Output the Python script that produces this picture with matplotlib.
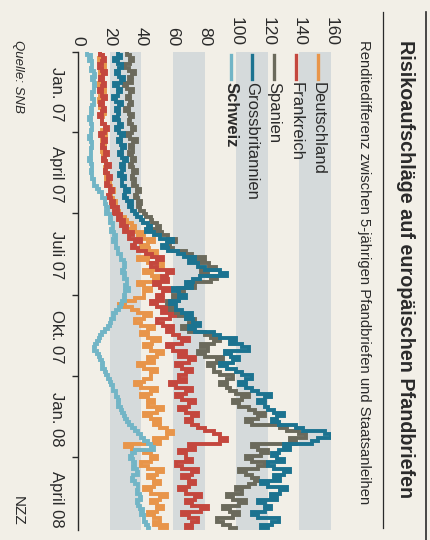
import numpy as np
import pandas as pd
import matplotlib
matplotlib.use('Agg')
import matplotlib.pyplot as plt
import matplotlib.transforms as mtransforms
import matplotlib.dates as mdates

plt.rcParams['font.family'] = ['Liberation Sans Narrow', 'Liberation Sans', 'DejaVu Sans']

dates = pd.date_range('2007-01-01', periods=154, freq='84h')

schweiz = [6, 8, 7, 9, 9, 8, 10, 11, 9, 10, 11, 10, 10, 9, 9, 10, 10, 9, 8, 9, 8, 7,
           8, 9, 9, 8, 8, 7, 8, 9, 9, 8, 8, 8, 7, 8, 9, 9, 8, 9, 9, 10,
           10, 12, 13, 15, 15, 17, 17, 18, 19, 18, 20, 21, 20, 22, 22, 21, 23, 24, 22, 24, 24, 25,
           25, 27, 27, 29, 30, 29, 28, 30, 29, 31, 31, 30, 32, 30, 29, 30, 28, 27,
           26, 24, 22, 23, 21, 20, 19, 17, 15, 14, 13, 12, 11, 10, 12, 13, 14, 15, 16, 15, 17, 18,
           19, 20, 21, 22, 22, 24, 24, 25, 26, 25, 27, 28, 29, 30, 31, 32, 34, 36, 38, 40, 42, 44,
           46, 48, 36, 34,
           33, 35, 36, 35, 37, 38, 35, 34, 36, 38, 38, 37, 39, 40, 37, 38, 39, 41, 40, 42,
           42, 43, 44, 45]

deutschland = [14, 16, 13, 15, 17, 15, 14, 16, 16, 14, 13, 15, 17, 15, 14, 13, 16, 14, 15, 17, 16, 15,
               15, 17, 17, 15, 18, 16, 15, 17, 17, 15, 18, 16, 16, 18, 19, 17, 17, 19, 18, 20,
               19, 21, 23, 21, 20, 22, 24, 22, 23, 26, 27, 30, 31, 34, 36, 33, 42, 38, 48, 44, 40, 45,
               50, 46, 38, 44, 54, 50, 42, 47, 52, 48, 38, 42, 46, 42,
               42, 36, 30, 26, 34, 38, 46, 42, 36, 40, 48, 44,
               40, 44, 52, 47, 42, 46, 54, 50, 44, 48, 38, 42, 50, 46,
               46, 42, 36, 40, 50, 46, 40, 44, 48, 44, 54, 50, 42, 46, 52, 48,
               52, 56, 60, 56, 48, 52, 30, 34, 42, 46,
               50, 46, 40, 44, 54, 50, 44, 48, 52, 48, 42, 46, 56, 52, 46, 50, 54, 50, 44, 48,
               52, 48, 56, 52]

frankreich = [14, 16, 17, 15, 13, 15, 18, 16, 14, 16, 17, 15, 13, 15, 18, 16, 14, 16, 17, 15, 13, 15,
              15, 17, 19, 17, 14, 16, 18, 16, 15, 17, 19, 17, 16, 18, 20, 18, 17, 19, 21, 19,
              18, 20, 22, 20, 19, 21, 23, 21, 25, 23, 27, 25, 29, 27, 31, 29, 35, 32, 40, 36, 34, 38,
              43, 47, 54, 50, 46, 50, 60, 56, 53, 57, 48, 52, 58, 54,
              50, 54, 46, 50, 57, 53, 62, 58, 50, 54, 60, 56,
              60, 64, 70, 66, 56, 60, 68, 64, 74, 70, 62, 66, 72, 68,
              64, 68, 58, 62, 72, 68, 62, 66, 74, 70, 64, 68, 76, 72, 68, 72,
              76, 80, 86, 90, 94, 90, 70, 74, 64, 68,
              68, 72, 62, 66, 76, 72, 66, 70, 74, 70, 64, 68, 78, 74, 68, 72, 82, 78, 66, 70,
              76, 72, 68, 72]

spanien = [31, 33, 35, 33, 30, 32, 36, 34, 32, 34, 29, 31, 35, 33, 31, 33, 34, 32, 30, 32, 35, 33,
           32, 34, 36, 34, 31, 33, 37, 35, 33, 35, 32, 34, 36, 34, 33, 35, 37, 35, 34, 36,
           35, 37, 39, 37, 36, 38, 40, 38, 39, 42, 43, 46, 47, 50, 52, 48, 53, 57, 62, 58, 56, 60,
           68, 72, 80, 76, 83, 87, 78, 82, 88, 84, 70, 74, 63, 67, 60, 64, 56, 60,
           58, 62, 64, 68, 74, 70, 66, 70, 80, 84, 90, 86, 78, 82, 76, 80, 92, 88, 82, 86,
           86, 90, 98, 94, 90, 94, 96, 100, 108, 104, 98, 102, 108, 112, 118, 114, 106, 110,
           128, 132, 140, 144, 134, 138, 110, 114, 120, 116,
           106, 110, 118, 114, 102, 106, 110, 114, 112, 108, 100, 104, 94, 98, 106, 102, 92, 96, 102, 98,
           88, 92, 96, 100]

grossbritannien = [25, 27, 23, 25, 28, 26, 24, 26, 29, 27, 23, 25, 27, 25, 22, 24, 28, 26, 24, 26, 25, 23,
                   26, 28, 24, 26, 29, 27, 25, 27, 30, 28, 26, 28, 31, 29, 27, 29, 28, 26, 30, 28,
                   28, 30, 32, 30, 29, 31, 34, 32, 34, 36, 37, 40, 41, 44, 46, 43, 48, 52, 60, 56, 53, 57,
                   63, 67, 74, 70, 76, 80, 90, 94, 77, 73, 68, 72, 60, 64, 68, 64, 58, 62,
                   62, 66, 72, 68, 73, 77, 70, 74, 86, 90, 100, 96, 104, 108, 93, 97, 102, 98, 90, 94,
                   100, 104, 110, 106, 102, 106, 110, 114, 122, 118, 114, 118, 120, 124, 130, 126, 123, 127,
                   138, 142, 156, 160, 152, 148, 130, 134, 127, 123,
                   126, 130, 120, 124, 134, 130, 124, 128, 116, 120, 132, 128, 122, 126, 114, 118, 122, 118, 110, 114,
                   127, 123, 116, 120]

labels = ['Deutschland', 'Frankreich', 'Spanien', 'Grossbritannien', 'Schweiz']
colors = ['#e8954a', '#c4473e', '#6b6a5c', '#1c7390', '#72b5c6']
series = [deutschland, frankreich, spanien, grossbritannien, schweiz]

value_ticks = [0, 20, 40, 60, 80, 100, 120, 140, 160]
quarter_ticks = pd.to_datetime(['2007-01-01', '2007-04-01', '2007-07-01',
                                '2007-10-01', '2008-01-01', '2008-04-01'])
quarter_labels = ['Jan. 07', 'April 07', 'Juli 07', 'Okt. 07', 'Jan. 08', 'April 08']

W, H = 430, 540
paper = '#f2efe7'
band = '#d5dadb'
ink = '#2a2a2a'

fig = plt.figure(figsize=(W / 100, H / 100), dpi=100, facecolor=paper)

def fx(px):
    return px / W

def fy(py):
    return 1 - py / H

# Diagramm ist um 90 Grad gedreht: Zeit nach unten, Werte nach rechts
ax = fig.add_axes([fx(78), fy(530), fx(331) - fx(78), fy(52) - fy(530)])
ax.set_facecolor(paper)
ax.set_xlim(0, 160)
t0 = pd.Timestamp('2007-01-01')
t1 = pd.Timestamp('2008-06-22')
ax.set_ylim(t1, t0)

for lo in [20, 60, 100, 140]:
    ax.axvspan(lo, lo + 20, color=band, lw=0, zorder=0)

order = [2, 3, 0, 1, 4]
for i in order:
    ax.plot(series[i], dates, color=colors[i], lw=2.8,
            drawstyle='steps-pre', solid_joinstyle='miter', zorder=2 + i * 0.1)

for s in ['top', 'right', 'bottom']:
    ax.spines[s].set_visible(False)
ax.spines['left'].set_color(ink)
ax.spines['left'].set_linewidth(1.0)
ax.set_xticks([])
ax.set_yticks(quarter_ticks)
ax.set_yticklabels([])
ax.tick_params(axis='y', direction='out', length=4, width=1, color=ink)

# Wertebeschriftung oben (gedreht)
tr_top = mtransforms.blended_transform_factory(ax.transData, fig.transFigure)
for v in value_ticks:
    fig.text(v, fy(46), str(v), transform=tr_top, rotation=270,
             ha='center', va='bottom', fontsize=12.5, color=ink)

# Zeitachse links (gedreht)
tr_left = mtransforms.blended_transform_factory(fig.transFigure, ax.transData)
for d, lab in zip(quarter_ticks, quarter_labels):
    ypos = mdates.date2num(d + pd.Timedelta(days=48))
    fig.text(fx(56), ypos, lab, transform=tr_left,
             rotation=270, ha='center', va='center', fontsize=12, color=ink)

# Legende
leg_x = [318, 296, 274, 252, 231]
for i, lab in enumerate(labels):
    fig.add_artist(plt.Line2D([fx(leg_x[i]), fx(leg_x[i])], [fy(55), fy(79)],
                              color=colors[i], lw=2.4, transform=fig.transFigure))
    fig.text(fx(leg_x[i]), fy(82), lab, rotation=270, ha='center', va='top',
             fontsize=12, color=ink,
             fontweight='bold' if lab == 'Schweiz' else 'normal')

# Titel und Untertitel
fig.text(fx(405), fy(40), 'Risikoaufschläge auf europäischen Pfandbriefen',
         rotation=270, ha='center', va='top', fontsize=14.2, fontweight='bold', color=ink)
fig.text(fx(364), fy(40),
         'Renditedifferenz zwischen 5-jährigen Pfandbriefen und Staatsanleihen',
         rotation=270, ha='center', va='top', fontsize=10.7, color=ink)
fig.add_artist(plt.Line2D([fx(383), fx(383)], [fy(12), fy(528)], color=ink, lw=0.9,
                          transform=fig.transFigure))
fig.add_artist(plt.Line2D([fx(426), fx(426)], [fy(12), fy(540)], color=ink, lw=1.2,
                          transform=fig.transFigure))

fig.text(fx(18), fy(40), 'Quelle: SNB', rotation=270, ha='center', va='top',
         fontsize=9.5, style='italic', color=ink)
fig.text(fx(18), fy(526), 'NZZ', rotation=270, ha='center', va='bottom',
         fontsize=11, color=ink)

fig.savefig('out.png', dpi=100, facecolor=paper)
